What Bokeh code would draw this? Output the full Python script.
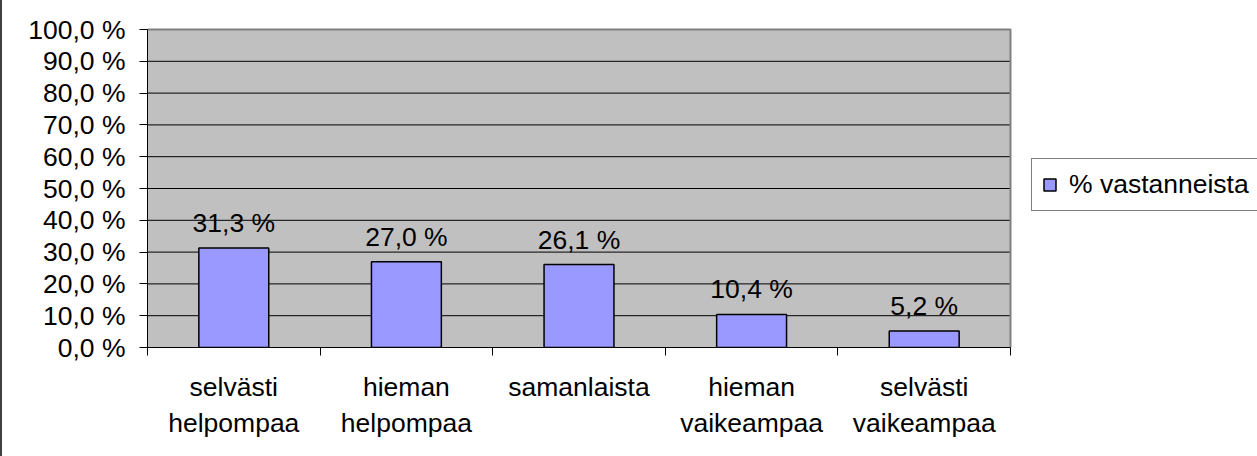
from bokeh.plotting import figure
from bokeh.models import FixedTicker, Legend, LegendItem, ColumnDataSource, Range1d, BoxAnnotation
from bokeh.core.properties import value
from bokeh.embed import file_html
from bokeh.resources import INLINE

categories = ["selvästi\nhelpompaa", "hieman\nhelpompaa", "samanlaista", "hieman\nvaikeampaa", "selvästi\nvaikeampaa"]
values = [31.3, 27.0, 26.1, 10.4, 5.2]
series_name = "% vastanneista"
y_ticks = [0, 10, 20, 30, 40, 50, 60, 70, 80, 90, 100]

FONT = "Liberation Sans"
FS = "26.5px"

def fmt(v):
    return f"{v:.1f}".replace(".", ",") + " %"

n = len(categories)
x_centers = [i + 0.5 for i in range(n)]
x_bounds = list(range(n + 1))
y_max = y_ticks[-1]

# layout (canvas pixels)
W, H = 1255, 456
PL, PR, PT, PB = 145, 1008, 29, 347   # plot area edges
FT = 26                                # frame top (a bit above plot area)
x_end = n * (W - PL) / (PR - PL)
y_end = y_max * (PB - FT) / (PB - PT)

src = ColumnDataSource(dict(x=x_centers, top=values, label=[fmt(v) for v in values]))

p = figure(width=W, height=H, output_backend="svg", toolbar_location=None,
           x_range=Range1d(0, x_end), y_range=Range1d(0, y_end),
           min_border_left=PL, min_border_right=0, min_border_top=FT, min_border_bottom=H - PB)
p.styles = {"border-left": "2px solid #404040"}

p.background_fill_color = "white"
p.border_fill_color = "white"
p.outline_line_color = None

# plot area background
p.add_layout(BoxAnnotation(left=0, right=n, bottom=0, top=y_max, level="underlay",
                           fill_color="#C0C0C0", fill_alpha=1, line_color=None))

# grid lines within plot area
p.segment(x0=[0] * len(y_ticks), x1=[n] * len(y_ticks), y0=y_ticks, y1=y_ticks,
          line_color="black", line_width=1)

# plot area border (top and right)
p.line(x=[0, n, n], y=[y_max, y_max, 0], line_color="#808080", line_width=2)

bars = p.vbar(x="x", top="top", width=0.405, bottom=0, source=src,
              fill_color="#9999FF", line_color="black", line_width=1.5)

p.text(x="x", y="top", text="label", source=src, text_align="center",
       text_baseline="alphabetic", y_offset=-25, text_font=value(FONT),
       text_font_size=FS, text_color="black")

# y axis
p.yaxis.ticker = FixedTicker(ticks=y_ticks)
p.yaxis.bounds = (0, y_max)
p.yaxis.major_label_overrides = {t: fmt(t) for t in y_ticks}
p.yaxis.major_label_text_font = FONT
p.yaxis.major_label_text_font_size = FS
p.yaxis.major_label_text_color = "black"
p.yaxis.major_tick_out = 8
p.yaxis.major_tick_in = 0
p.yaxis.minor_tick_line_color = None
p.yaxis.axis_line_color = "black"
p.yaxis.major_tick_line_color = "black"
p.yaxis.major_label_standoff = 14

# x axis
p.xaxis.ticker = FixedTicker(ticks=x_centers, minor_ticks=x_bounds)
p.xaxis.bounds = (0, n)
p.xaxis.major_label_overrides = {c: cat for c, cat in zip(x_centers, categories)}
p.xaxis.major_label_text_font = FONT
p.xaxis.major_label_text_font_size = FS
p.xaxis.major_label_text_color = "black"
p.xaxis.major_tick_line_color = None
p.xaxis.major_tick_out = 0
p.xaxis.major_tick_in = 0
p.xaxis.minor_tick_line_color = "black"
p.xaxis.minor_tick_out = 8
p.xaxis.minor_tick_in = 0
p.xaxis.axis_line_color = "black"
p.xaxis.major_label_standoff = 16

p.xgrid.grid_line_color = None
p.ygrid.grid_line_color = None

legend = Legend(items=[LegendItem(label=series_name, renderers=[bars])],
                location=(1031 - 2 - PL, PB - 211), margin=0, padding=10, spacing=0,
                glyph_width=15, glyph_height=15, label_standoff=12, label_width=230,
                label_text_font=FONT, label_text_font_size=FS, label_text_color="black",
                border_line_color="black", border_line_width=1,
                background_fill_color="white", background_fill_alpha=1)
p.add_layout(legend, "center")

open("out.html", "w").write(file_html(p, INLINE))
